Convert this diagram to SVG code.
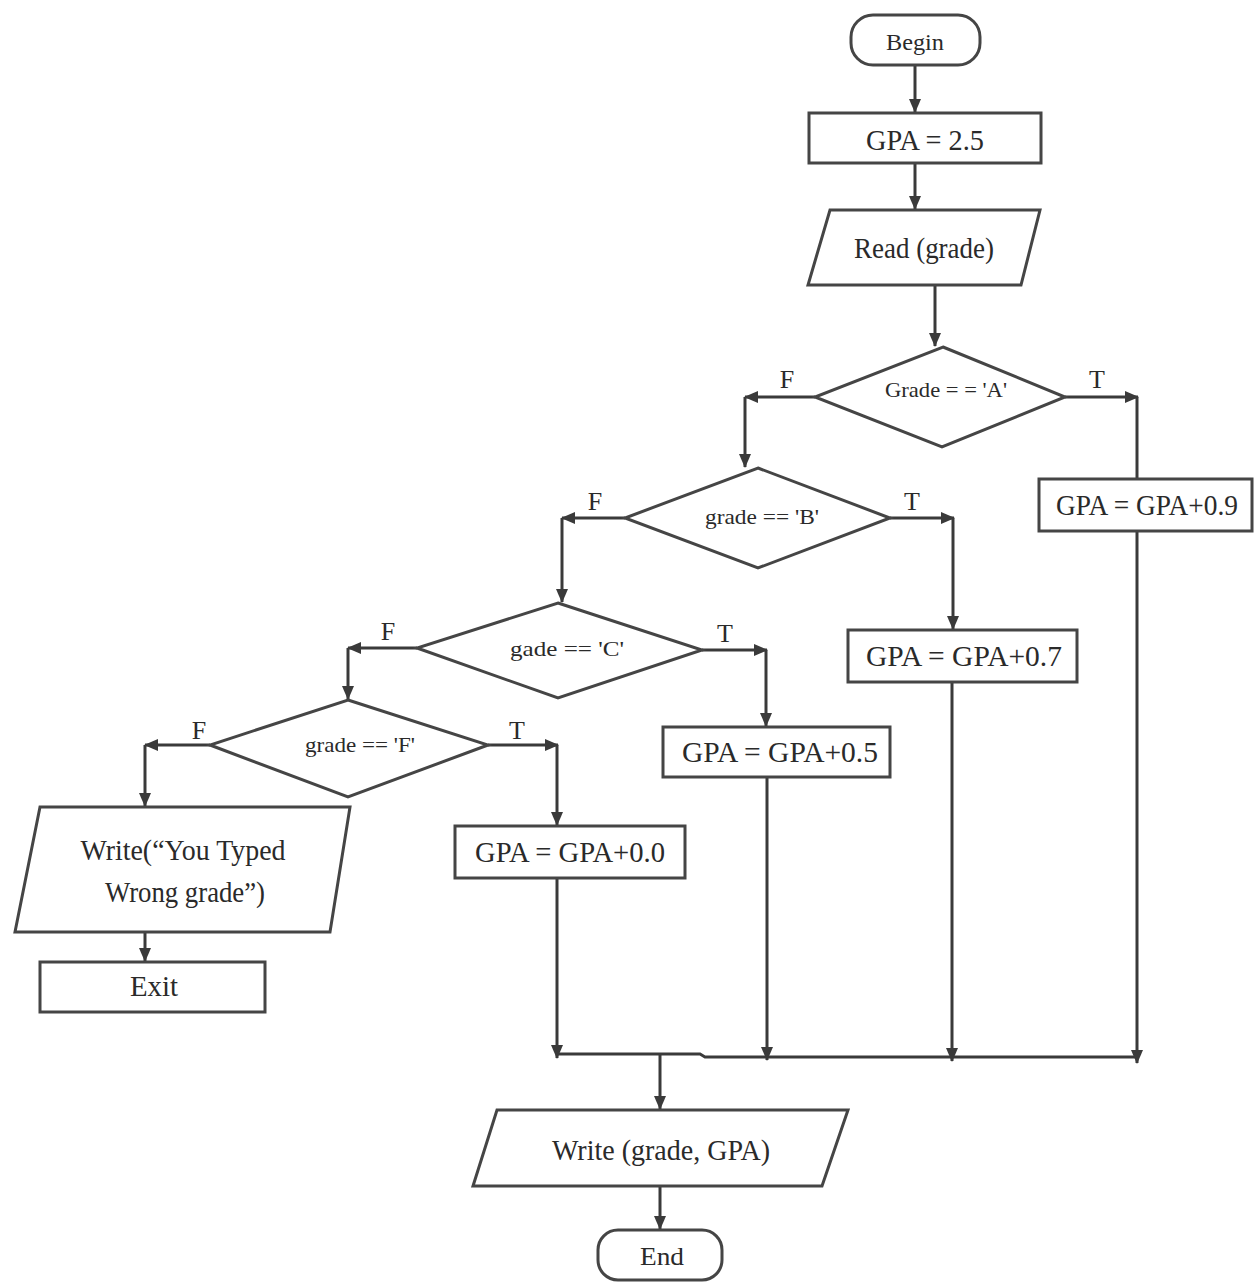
<svg xmlns="http://www.w3.org/2000/svg" width="1257" height="1288" viewBox="0 0 1257 1288">
  <style>
    .shape { fill: #ffffff; stroke: #454545; stroke-width: 3; }
    .wire { fill: none; stroke: #3a3a3a; stroke-width: 3; }
    .lbl { font-family: "Liberation Serif", "Times New Roman", serif; fill: #2a2a2a; text-anchor: middle; }
    .box { font-size: 30px; }
    .cond { font-size: 22px; }
    .tf { font-size: 26px; }
  </style>
  <defs>
    <marker id="arrow" viewBox="0 0 14 12" refX="13" refY="6" markerWidth="14" markerHeight="12" markerUnits="userSpaceOnUse" orient="auto">
      <path d="M0,0 L14,6 L0,12 Z" fill="#3a3a3a"/>
    </marker>
  </defs>
  <rect width="1257" height="1288" fill="#ffffff"/>

  <!-- connectors -->
  <g id="connectors">
    <path class="wire" d="M915,65 V112" marker-end="url(#arrow)"/>
    <path class="wire" d="M915,163 V209" marker-end="url(#arrow)"/>
    <path class="wire" d="M935,285 V346" marker-end="url(#arrow)"/>

    <!-- Grade A -->
    <path class="wire" d="M815,397 H745" marker-end="url(#arrow)"/>
    <path class="wire" d="M745,397 V467" marker-end="url(#arrow)"/>
    <path class="wire" d="M1065,397 H1138" marker-end="url(#arrow)"/>
    <path class="wire" d="M1137,397 V479"/>
    <path class="wire" d="M1137,531 V1063" marker-end="url(#arrow)"/>

    <!-- Grade B -->
    <path class="wire" d="M625,518 H562" marker-end="url(#arrow)"/>
    <path class="wire" d="M562,518 V602" marker-end="url(#arrow)"/>
    <path class="wire" d="M890,518 H954" marker-end="url(#arrow)"/>
    <path class="wire" d="M953,518 V629" marker-end="url(#arrow)"/>
    <path class="wire" d="M952,682 V1061" marker-end="url(#arrow)"/>

    <!-- Grade C -->
    <path class="wire" d="M417,648 H348" marker-end="url(#arrow)"/>
    <path class="wire" d="M348,648 V699" marker-end="url(#arrow)"/>
    <path class="wire" d="M702,650 H767" marker-end="url(#arrow)"/>
    <path class="wire" d="M766,650 V726" marker-end="url(#arrow)"/>
    <path class="wire" d="M767,777 V1060" marker-end="url(#arrow)"/>

    <!-- Grade F -->
    <path class="wire" d="M210,745 H145" marker-end="url(#arrow)"/>
    <path class="wire" d="M145,745 V806" marker-end="url(#arrow)"/>
    <path class="wire" d="M488,745 H558" marker-end="url(#arrow)"/>
    <path class="wire" d="M557,745 V825" marker-end="url(#arrow)"/>
    <path class="wire" d="M557,878 V1058" marker-end="url(#arrow)"/>
    <path class="wire" d="M145,932 V961" marker-end="url(#arrow)"/>

    <!-- merge -->
    <path class="wire" d="M557,1054 H700 L705,1057 H1137"/>
    <path class="wire" d="M660,1054 V1109" marker-end="url(#arrow)"/>
    <path class="wire" d="M660,1186 V1229" marker-end="url(#arrow)"/>

    <!-- branch labels -->
    <text class="lbl tf" x="787" y="388">F</text>
    <text class="lbl tf" x="1097" y="388">T</text>
    <text class="lbl tf" x="595" y="510">F</text>
    <text class="lbl tf" x="912" y="510">T</text>
    <text class="lbl tf" x="388" y="640">F</text>
    <text class="lbl tf" x="725" y="642">T</text>
    <text class="lbl tf" x="199" y="739">F</text>
    <text class="lbl tf" x="517" y="739">T</text>
  </g>

  <g id="begin">
    <rect class="shape" x="851" y="15" width="129" height="50" rx="22"/>
    <text class="lbl" x="915" y="50" font-size="24" textLength="58" lengthAdjust="spacingAndGlyphs">Begin</text>
  </g>

  <g id="init-gpa">
    <rect class="shape" x="809" y="113" width="232" height="50"/>
    <text class="lbl box" x="925" y="150" textLength="118" lengthAdjust="spacingAndGlyphs">GPA = 2.5</text>
  </g>

  <g id="read-grade">
    <polygon class="shape" points="830,210 1040,210 1021,285 808,285"/>
    <text class="lbl box" x="924" y="258" textLength="140" lengthAdjust="spacingAndGlyphs">Read (grade)</text>
  </g>

  <g id="cond-a">
    <polygon class="shape" points="943,347 1065,397 942,447 815,397"/>
    <text class="lbl cond" x="946" y="397" textLength="122" lengthAdjust="spacingAndGlyphs">Grade = = 'A'</text>
  </g>

  <g id="gpa-a">
    <rect class="shape" x="1039" y="479" width="213" height="52"/>
    <text class="lbl box" x="1147" y="515" textLength="182" lengthAdjust="spacingAndGlyphs">GPA = GPA+0.9</text>
  </g>

  <g id="cond-b">
    <polygon class="shape" points="758,468 890,518 758,568 625,518"/>
    <text class="lbl cond" x="762" y="524" textLength="114" lengthAdjust="spacingAndGlyphs">grade == 'B'</text>
  </g>

  <g id="gpa-b">
    <rect class="shape" x="848" y="630" width="229" height="52"/>
    <text class="lbl box" x="964" y="666" textLength="196" lengthAdjust="spacingAndGlyphs">GPA = GPA+0.7</text>
  </g>

  <g id="cond-c">
    <polygon class="shape" points="558,603 702,650 558,698 417,648"/>
    <text class="lbl cond" x="567" y="656" textLength="114" lengthAdjust="spacingAndGlyphs">gade == 'C'</text>
  </g>

  <g id="gpa-c">
    <rect class="shape" x="663" y="727" width="227" height="50"/>
    <text class="lbl box" x="780" y="762" textLength="196" lengthAdjust="spacingAndGlyphs">GPA = GPA+0.5</text>
  </g>

  <g id="cond-f">
    <polygon class="shape" points="348,700 488,745 348,797 210,745"/>
    <text class="lbl cond" x="360" y="752" textLength="110" lengthAdjust="spacingAndGlyphs">grade == 'F'</text>
  </g>

  <g id="gpa-f">
    <rect class="shape" x="455" y="826" width="230" height="52"/>
    <text class="lbl box" x="570" y="862" textLength="190" lengthAdjust="spacingAndGlyphs">GPA = GPA+0.0</text>
  </g>

  <g id="write-error">
    <polygon class="shape" points="40,807 350,807 330,932 15,932"/>
    <text class="lbl box" x="183" y="860" textLength="205" lengthAdjust="spacingAndGlyphs">Write(“You Typed</text>
    <text class="lbl box" x="185" y="902" textLength="160" lengthAdjust="spacingAndGlyphs">Wrong grade”)</text>
  </g>

  <g id="exit">
    <rect class="shape" x="40" y="962" width="225" height="50"/>
    <text class="lbl box" x="154" y="996" textLength="48" lengthAdjust="spacingAndGlyphs">Exit</text>
  </g>

  <g id="write-result">
    <polygon class="shape" points="497,1110 848,1110 822,1186 473,1186"/>
    <text class="lbl box" x="661" y="1160" textLength="218" lengthAdjust="spacingAndGlyphs">Write (grade, GPA)</text>
  </g>

  <g id="end">
    <rect class="shape" x="598" y="1230" width="124" height="50" rx="20"/>
    <text class="lbl" x="662" y="1265" font-size="25" textLength="44" lengthAdjust="spacingAndGlyphs">End</text>
  </g>
</svg>
